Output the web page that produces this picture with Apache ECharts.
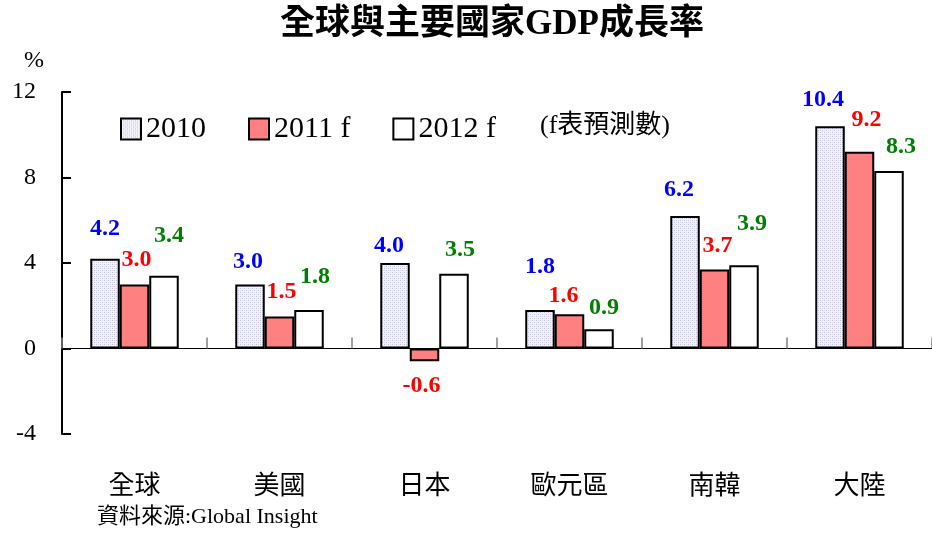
<!DOCTYPE html>
<html>
<head>
    <meta charset="utf-8">
    <title>全球與主要國家GDP成長率</title>
    <script src="https://cdn.jsdelivr.net/npm/echarts@6/dist/echarts.min.js"></script>
    <style>
        html, body { margin: 0; padding: 0; background: #fff; }
        #chart1 { width: 932px; height: 536px; }
    </style>
</head>
<body>
<div id="chart1"></div>
<script>
    // 資料
    var categories = ['全球', '美國', '日本', '歐元區', '南韓', '大陸'];
    var gdp2010 = [4.2, 3.0, 4.0, 1.8, 6.2, 10.4];
    var gdp2011f = [3.0, 1.5, -0.6, 1.6, 3.7, 9.2];
    var gdp2012f = [3.4, 1.8, 3.5, 0.9, 3.9, 8.3];
    var seriesNames = ['2010', '2011 f', '2012 f'];

    // 數字標籤的微調位置 (原圖標籤並非都在正上方)
    var nudge2010 = [[0, -18], [-2, -11], [-6, -5], [0, -31], [-6, -14], [-7, -14]];
    var nudge2011 = [[2, -13], [2, -13], [-3, 12], [-6, -7], [3, -12], [7, -20]];
    var nudge2012 = [[5, -28], [6, -21], [6, -12], [5, -9], [8, -29], [12, -12]];

    var serif = "'Liberation Serif', 'Noto Sans CJK TC', serif";

    // 2010 的點狀底紋
    function dotPattern() {
        var c = document.createElement('canvas');
        c.width = 4; c.height = 4;
        var ctx = c.getContext('2d');
        ctx.fillStyle = '#f3f3fb';
        ctx.fillRect(0, 0, 4, 4);
        ctx.fillStyle = '#bcbcd6';
        ctx.fillRect(0, 0, 1, 1);
        ctx.fillRect(2, 2, 1, 1);
        ctx.fillStyle = '#d8d8ea';
        ctx.fillRect(0, 2, 1, 1);
        ctx.fillRect(2, 0, 1, 1);
        return c;
    }

    function buildData(values, nudges, color) {
        return values.map(function (v, i) {
            return {
                value: v,
                label: {
                    position: v >= 0 ? 'top' : 'bottom',
                    offset: nudges[i],
                    color: color
                }
            };
        });
    }

    function barSeries(name, values, nudges, fill, labelColor) {
        return {
            name: name,
            type: 'bar',
            xAxisIndex: 0,
            barWidth: 29.5,
            barGap: '0%',
            data: buildData(values, nudges, labelColor),
            itemStyle: {
                color: fill,
                borderColor: '#000',
                borderWidth: 2
            },
            label: {
                show: true,
                distance: 0,
                fontFamily: serif,
                fontWeight: 'bold',
                fontSize: 24,
                formatter: function (p) { return p.value.toFixed(1); }
            }
        };
    }

    var myChart1 = echarts.init(document.getElementById('chart1'));
    myChart1.setOption({
        backgroundColor: '#fff',
        animation: false,
        grid: {
            left: 62,
            right: 0,
            top: 92,
            bottom: 102,
            containLabel: false,
            outerBoundsMode: 'none'
        },
        legend: {
            data: seriesNames,
            left: 115,
            top: 109,
            icon: 'rect',
            itemWidth: 20,
            itemHeight: 21,
            itemGap: 42,
            textStyle: { fontFamily: serif, fontSize: 30, color: '#000' }
        },
        xAxis: [
            {
                // 底部的國家名稱
                type: 'category',
                data: categories,
                position: 'bottom',
                axisLine: { show: false, onZero: false },
                axisTick: { show: false },
                axisLabel: {
                    margin: 40,
                    fontFamily: serif,
                    fontSize: 26,
                    color: '#000'
                },
                splitLine: { show: false }
            },
            {
                // 0 的橫線與分隔刻度
                type: 'category',
                data: categories,
                position: 'top',
                axisLine: { show: true, onZero: true, lineStyle: { color: '#000', width: 1 } },
                axisTick: { show: true, inside: false, length: 11, lineStyle: { color: '#808080', width: 1.5 } },
                axisLabel: { show: false },
                splitLine: { show: false }
            }
        ],
        yAxis: {
            type: 'value',
            min: -4,
            max: 12,
            interval: 4,
            axisLine: { show: true, lineStyle: { color: '#000', width: 2 } },
            axisTick: { show: true, inside: true, length: 9, lineStyle: { color: '#000', width: 2 } },
            axisLabel: {
                margin: 26,
                fontFamily: serif,
                fontSize: 24,
                color: '#000'
            },
            splitLine: { show: false }
        },
        graphic: [
            {
                type: 'text', x: 492, y: 25,
                style: {
                    text: '全球與主要國家GDP成長率',
                    fontFamily: serif, fontWeight: 'bold', fontSize: 35,
                    fill: '#000', align: 'center', verticalAlign: 'middle'
                }
            },
            {
                type: 'text', x: 34, y: 61,
                style: {
                    text: '%', fontFamily: serif, fontSize: 24,
                    fill: '#000', align: 'center', verticalAlign: 'middle'
                }
            },
            {
                type: 'text', x: 540, y: 126,
                style: {
                    text: '(f表預測數)', fontFamily: serif, fontSize: 26,
                    fill: '#000', align: 'left', verticalAlign: 'middle'
                }
            },
            {
                type: 'text', x: 97, y: 517,
                style: {
                    text: '資料來源:Global Insight', fontFamily: serif, fontSize: 22,
                    fill: '#000', align: 'left', verticalAlign: 'middle'
                }
            }
        ],
        series: [
            barSeries(seriesNames[0], gdp2010, nudge2010, { image: dotPattern(), repeat: 'repeat' }, '#0000ff'),
            barSeries(seriesNames[1], gdp2011f, nudge2011, '#ff8080', '#ff0000'),
            barSeries(seriesNames[2], gdp2012f, nudge2012, '#ffffff', '#008000')
        ]
    });
</script>
</body>
</html>
